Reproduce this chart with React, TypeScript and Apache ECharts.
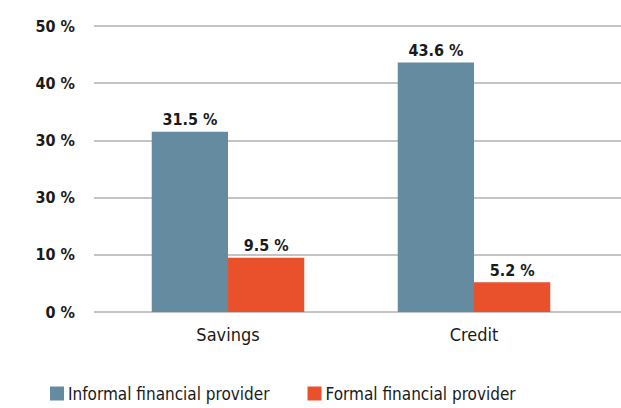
import React, { useEffect, useRef } from "react";
import * as echarts from "echarts";

const categories = ["Savings", "Credit"];
const seriesNames = ["Informal financial provider", "Formal financial provider"];
const informalValues = [31.5, 43.6];
const formalValues = [9.5, 5.2];
const tickLabels = ["0 %", "10 %", "30 %", "30 %", "40 %", "50 %"];

const BLUE = "#648BA0";
const RED = "#E8512C";
const FONT = "'DejaVu Sans Condensed', Roboto, sans-serif";

export default function App() {
  const ref = useRef<HTMLDivElement>(null);
  useEffect(() => {
    if (!ref.current) return;
    const chart = echarts.init(ref.current, null, { renderer: "svg" });
    const labelCfg = {
      show: true,
      position: "top",
      distance: 4,
      fontFamily: FONT,
      fontWeight: "bold",
      fontSize: 16,
      color: "#1a1a1a",
      formatter: (p: any) => `${p.value.toFixed(1)} %`,
    };
    chart.setOption({
      animation: false,
      backgroundColor: "#ffffff",
      textStyle: { fontFamily: FONT },
      grid: [
        { left: 105, right: 24, top: 26, bottom: 96 },
        { left: 94, right: 0, top: 26, bottom: 96 },
      ],
      xAxis: [
        {
          type: "category",
          gridIndex: 0,
          data: categories,
          axisLine: { show: false },
          axisTick: { show: false },
          axisLabel: { fontFamily: FONT, fontSize: 18, color: "#1a1a1a", margin: 13 },
        },
        { type: "value", gridIndex: 1, min: 0, max: 1, show: false },
      ],
      yAxis: [
        { type: "value", gridIndex: 0, min: 0, max: 50, interval: 10, show: false },
        {
          type: "value",
          gridIndex: 1,
          min: 0,
          max: 50,
          interval: 10,
          axisLine: { show: false },
          axisTick: { show: false },
          splitLine: { lineStyle: { color: "#b0b0b0", width: 1.5 } },
          axisLabel: {
            fontFamily: FONT,
            fontWeight: "bold",
            fontSize: 16,
            color: "#1a1a1a",
            margin: 19,
            formatter: (v: number) => tickLabels[Math.round(v / 10)] ?? "",
          },
        },
      ],
      legend: {
        data: seriesNames,
        left: 48,
        top: 383,
        padding: 2,
        itemWidth: 14,
        itemHeight: 14,
        itemGap: 38,
        icon: "rect",
        textStyle: { fontFamily: FONT, fontSize: 17, color: "#1a1a1a", padding: [0, 0, 0, -1] },
      },
      series: [
        {
          name: seriesNames[0],
          type: "bar",
          xAxisIndex: 0,
          yAxisIndex: 0,
          data: informalValues,
          itemStyle: { color: BLUE },
          barGap: "0%",
          barCategoryGap: "38%",
          label: labelCfg,
        },
        {
          name: seriesNames[1],
          type: "bar",
          xAxisIndex: 0,
          yAxisIndex: 0,
          data: formalValues,
          itemStyle: { color: RED },
          barGap: "0%",
          barCategoryGap: "38%",
          label: labelCfg,
        },
      ],
    });
    return () => chart.dispose();
  }, []);
  return (
    <div
      ref={ref}
      style={{ position: "fixed", left: 0, top: 0, width: 621, height: 408 }}
    />
  );
}
